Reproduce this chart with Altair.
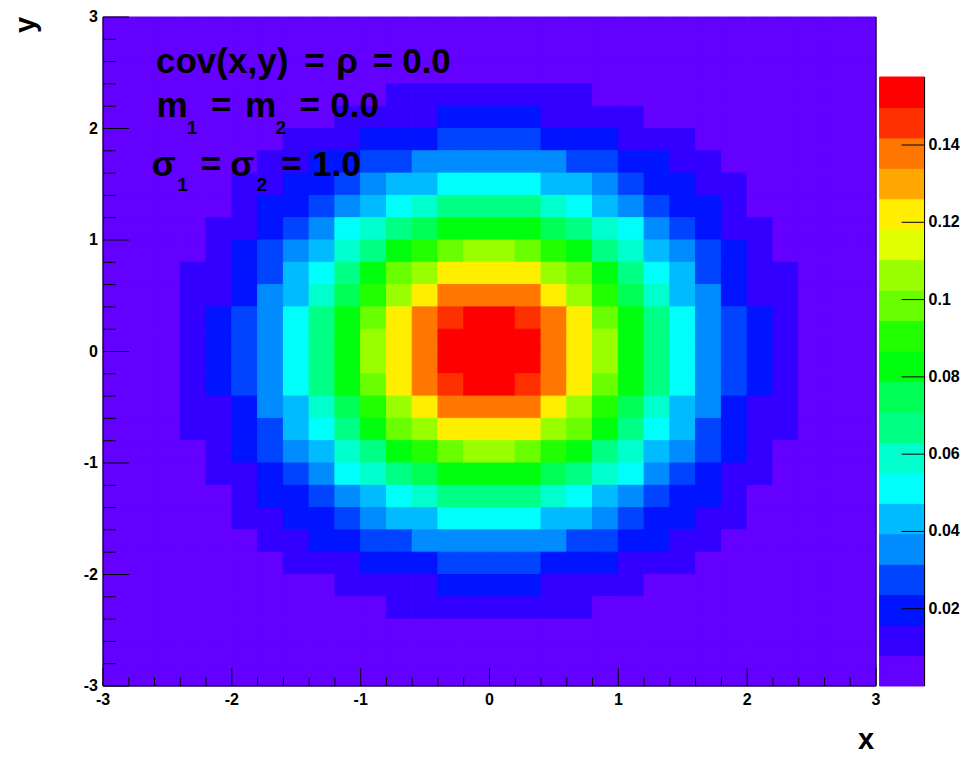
import altair as alt
import pandas as pd

# ---------------- data ----------------
# bin edges (30 x 30 bins of 0.2 from -3 to 3)
EDGES = [-3.0, -2.8, -2.6, -2.4, -2.2, -2.0, -1.8, -1.6, -1.4, -1.2, -1.0,
         -0.8, -0.6, -0.4, -0.2, 0.0, 0.2, 0.4, 0.6, 0.8, 1.0,
         1.2, 1.4, 1.6, 1.8, 2.0, 2.2, 2.4, 2.6, 2.8, 3.0]

# colour level of every cell (0..19, written 0-9 then a-j), top row first
LEVEL_ROWS = [
    "000000000000000000000000000000",
    "000000000000000000000000000000",
    "000000000000000000000000000000",
    "000000000001111111100000000000",
    "000000000111122221111000000000",
    "000000011122233332221110000000",
    "000000112233444444332211000000",
    "000001122345566665543221100000",
    "000001223456788887654322100000",
    "0000112346789aaaa9876432110000",
    "00001234578abcddcba87543210000",
    "0001123568acdffffdca8653211000",
    "0001124579bdfhhhhfdb9754211000",
    "000123468acfhijjihfca864321000",
    "000123468adfhjjjjhfda864321000",
    "000123468adfhjjjjhfda864321000",
    "000123468acfhijjihfca864321000",
    "0001124579bdfhhhhfdb9754211000",
    "0001123568acdffffdca8653211000",
    "00001234578abcddcba87543210000",
    "0000112346789aaaa9876432110000",
    "000001223456788887654322100000",
    "000001122345566665543221100000",
    "000000112233444444332211000000",
    "000000011122233332221110000000",
    "000000000111122221111000000000",
    "000000000001111111100000000000",
    "000000000000000000000000000000",
    "000000000000000000000000000000",
    "000000000000000000000000000000",
]
LEVEL_CODE = "0123456789abcdefghij"

PALETTE = ["#6300FF", "#3300FF", "#0014FF", "#0044FF", "#008BFF",
           "#00BBFF", "#00FFFC", "#00FFCC", "#00FF85", "#00FF55",
           "#00FF0E", "#22FF00", "#69FF00", "#99FF00", "#E0FF00",
           "#FFEE00", "#FFA700", "#FF7700", "#FF3000", "#FF0000"]

Z_MAX = 0.1576                      # top of the colour bar
CB_TICKS = [0.02, 0.04, 0.06, 0.08, 0.1, 0.12, 0.14]
CB_LABELS = ["0.02", "0.04", "0.06", "0.08", "0.1", "0.12", "0.14"]
AXIS_TICKS = [-3, -2, -1, 0, 1, 2, 3]
AXIS_LABELS = ["-3", "-2", "-1", "0", "1", "2", "3"]

ANNOT_TEXT = ["cov(x,y)", "=", "ρ", "=", "0.0",
              "m", "1", "=", "m", "2", "=", "0.0",
              "σ", "1", "=", "σ", "2", "=", "1.0"]
ANNOT_X = [-2.075, -1.358, -1.106, -0.826, -0.489,
           -2.463, -2.308, -2.083, -1.777, -1.621, -1.396, -1.047,
           -2.529, -2.382, -2.161, -1.920, -1.765, -1.540, -1.187]
ANNOT_Y = [2.50, 2.50, 2.50, 2.50, 2.50,
           2.10, 1.955, 2.10, 2.10, 1.955, 2.10, 2.10,
           1.572, 1.44, 1.572, 1.572, 1.44, 1.572, 1.572]
ANNOT_SIZE = [35, 35, 35, 35, 35,
              35, 19, 35, 35, 19, 35, 35,
              35, 19, 35, 35, 19, 35, 35]

# ---------------- layout / style constants ----------------
FONT = "Liberation Sans"
W, H = 773, 669
N_LEV = len(PALETTE)
CB_TOP = Z_MAX * 669 / 609          # colour-bar scale top so the bar starts lower
CB_X0, CB_X1 = 3.028, 3.377          # colour bar placed right of the frame
CB_TICK_LEN = 0.178
X_MAJ, X_MIN = 0.164, 0.074          # tick lengths (data units)
Y_MAJ, Y_MIN = 0.202, 0.099
X_TITLE_POS = (2.922, -3.565)        # axis-title anchors (data units)
Y_TITLE_POS = (-3.600, 2.928)
LABEL_SIZE = 16

# ---------------- tables ----------------
cells = []
n = len(LEVEL_ROWS)
for r, row in enumerate(LEVEL_ROWS):
    y_hi = EDGES[n - r]
    y_lo = EDGES[n - r - 1]
    for c, ch in enumerate(row):
        cells.append({"x0": EDGES[c], "x1": EDGES[c + 1],
                      "y0": y_lo, "y1": y_hi,
                      "level": LEVEL_CODE.index(ch)})
cells = pd.DataFrame(cells)

lines = [{"x": -3, "x2": 3, "y": -3, "y2": -3},      # x axis line
         {"x": -3, "x2": -3, "y": -3, "y2": 3},      # y axis line
         {"x": 3, "x2": 3, "y": -3, "y2": 3}]        # right frame edge
for v in EDGES:
    major = abs(v - round(v)) < 1e-9
    lx = X_MAJ if major else X_MIN
    ly = Y_MAJ if major else Y_MIN
    lines.append({"x": v, "x2": v, "y": -3, "y2": -3 + lx})
    lines.append({"x": -3, "x2": -3 + ly, "y": v, "y2": v})
lines = pd.DataFrame(lines)

annot = pd.DataFrame({"text": ANNOT_TEXT, "x": ANNOT_X, "y": ANNOT_Y,
                      "size": ANNOT_SIZE})

xlab = pd.DataFrame({"x": AXIS_TICKS, "y": [-3] * len(AXIS_TICKS),
                     "text": AXIS_LABELS})
ylab = pd.DataFrame({"x": [-3] * len(AXIS_TICKS), "y": AXIS_TICKS,
                     "text": AXIS_LABELS})

bands = pd.DataFrame({
    "level": list(range(N_LEV)),
    "lo": [Z_MAX * k / N_LEV for k in range(N_LEV)],
    "hi": [Z_MAX * (k + 1) / N_LEV for k in range(N_LEV)],
    "x0": [CB_X0] * N_LEV, "x1": [CB_X1] * N_LEV,
})
cb_lines = pd.DataFrame(
    [{"x": CB_X1, "x2": CB_X1, "y": 0.0, "y2": Z_MAX}] +
    [{"x": CB_X1 - CB_TICK_LEN, "x2": CB_X1, "y": t, "y2": t} for t in CB_TICKS]
)
cb_lab = pd.DataFrame({"x": [CB_X1] * len(CB_TICKS), "y": CB_TICKS,
                       "text": CB_LABELS})

# ---------------- scales ----------------
xscale = alt.Scale(domain=[-3, 3], nice=False, zero=False)
yscale = alt.Scale(domain=[-3, 3], nice=False, zero=False)
cbscale = alt.Scale(domain=[0, CB_TOP], nice=False, zero=False)
cscale = alt.Scale(domain=list(range(N_LEV)), range=PALETTE)


def X(f):
    return alt.X(f, scale=xscale, axis=None)


def Y(f, s=yscale):
    return alt.Y(f, scale=s, axis=None)


heat = alt.Chart(cells).mark_rect(strokeWidth=1).encode(
    x=X("x0:Q"), x2="x1:Q", y=Y("y0:Q"), y2="y1:Q",
    color=alt.Color("level:O", scale=cscale, legend=None),
    stroke=alt.Stroke("level:O", scale=cscale, legend=None),
)

rules = alt.Chart(lines).mark_rule(color="black", strokeWidth=1).encode(
    x=X("x:Q"), x2="x2:Q", y=Y("y:Q"), y2="y2:Q",
)

text = alt.Chart(annot).mark_text(font=FONT, fontWeight="bold", align="center",
                                  baseline="alphabetic", color="black").encode(
    x=X("x:Q"), y=Y("y:Q"), text="text:N",
    size=alt.Size("size:Q", scale=None, legend=None),
)

x_labels = alt.Chart(xlab).mark_text(font=FONT, fontWeight="bold",
                                     fontSize=LABEL_SIZE, align="center",
                                     baseline="top", dy=6,
                                     color="black").encode(
    x=X("x:Q"), y=Y("y:Q"), text="text:N")

y_labels = alt.Chart(ylab).mark_text(font=FONT, fontWeight="bold",
                                     fontSize=LABEL_SIZE, align="right",
                                     baseline="middle", dx=-5,
                                     color="black").encode(
    x=X("x:Q"), y=Y("y:Q"), text="text:N")

xtitle = alt.Chart(pd.DataFrame({
    "x": [X_TITLE_POS[0]], "y": [X_TITLE_POS[1]], "text": ["x"]})).mark_text(
    font=FONT, fontWeight="bold", fontSize=29, align="center",
    baseline="alphabetic", color="black").encode(
    x=X("x:Q"), y=Y("y:Q"), text="text:N")

ytitle = alt.Chart(pd.DataFrame({
    "x": [Y_TITLE_POS[0]], "y": [Y_TITLE_POS[1]], "text": ["y"]})).mark_text(
    font=FONT, fontWeight="bold", fontSize=29, align="center",
    baseline="middle", angle=270, color="black").encode(
    x=X("x:Q"), y=Y("y:Q"), text="text:N")

main = alt.layer(heat, rules, text, x_labels, y_labels, xtitle, ytitle)

cb_rect = alt.Chart(bands).mark_rect(strokeWidth=1).encode(
    x=X("x0:Q"), x2="x1:Q", y=Y("lo:Q", cbscale), y2="hi:Q",
    color=alt.Color("level:O", scale=cscale, legend=None),
    stroke=alt.Stroke("level:O", scale=cscale, legend=None),
)
cb_rules = alt.Chart(cb_lines).mark_rule(color="black", strokeWidth=1).encode(
    x=X("x:Q"), x2="x2:Q", y=Y("y:Q", cbscale), y2="y2:Q",
)
cb_text = alt.Chart(cb_lab).mark_text(font=FONT, fontWeight="bold",
                                      fontSize=LABEL_SIZE, align="left",
                                      baseline="middle", dx=4,
                                      color="black").encode(
    x=X("x:Q"), y=Y("y:Q", cbscale), text="text:N")
colorbar = alt.layer(cb_rect, cb_rules, cb_text)

chart = alt.layer(main, colorbar).resolve_scale(y="independent").properties(
    width=W, height=H,
    autosize=alt.AutoSizeParams(type="none"),
    padding={"left": 95, "top": 9, "right": 86, "bottom": 68},
    background="white",
).configure_view(stroke=None)

chart.save("out.html", embed_options={"renderer": "svg", "actions": False})
